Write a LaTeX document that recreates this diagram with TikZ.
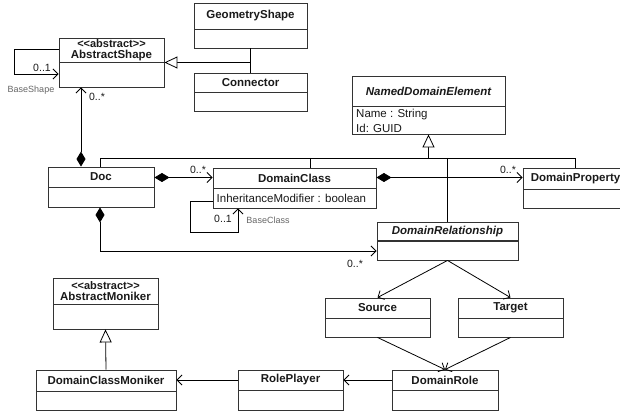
\documentclass[tikz,border=0pt]{standalone}
\usepackage{fontspec}
\setmainfont{Liberation Sans}
\usetikzlibrary{arrows.meta,fit,calc}
\definecolor{boxc}{HTML}{333333}
\definecolor{txtc}{HTML}{1A1A1A}
\tikzset{
  box/.style={draw=boxc, line width=0.9pt, inner sep=0pt},
  ttl/.style={font=\fontsize{11.5}{12}\selectfont\bfseries, align=center, inner sep=0pt, text=txtc},
  attr/.style={font=\fontsize{11.5}{13}\selectfont, anchor=west, inner sep=0pt, text=txtc},
  lbl/.style={font=\fontsize{10.5}{12}\selectfont, inner sep=0pt, text=txtc},
  rl/.style={font=\fontsize{9}{10}\selectfont, text=black!60, inner sep=0pt},
  conn/.style={line width=0.8pt, draw=black},
  >={Straight Barb[length=5pt,width=10pt]},
  dia/.tip={Diamond[length=15pt,width=9pt]},
  gen/.tip={Triangle[open,length=13pt,width=12pt,fill=white]},
}
\newcommand{\stereo}{<\kern0pt<abstract>\kern0pt>}
\newcommand{\ucls}[7]{%
  \coordinate (#1-a) at (#2,#3);
  \coordinate (#1-b) at (#4,#6);
  \node[box, fit=(#1-a)(#1-b)] (#1) {};
  \draw[box] (#2,#5) -- (#4,#5);
  \node[ttl] (#1-t) at ({(#2+#4)/2},{(#3+#5)/2}) {#7};
}
\begin{document}
\begin{tikzpicture}[x=1pt,y=-1pt]
\useasboundingbox (0,0) rectangle (620,411);
\clip (0,0) rectangle (620,411);
\fill[white] (0,0) rectangle (620,411);

% classes
\ucls{gs}{194}{3}{307}{29}{48}{GeometryShape}
\ucls{con}{194}{73}{307}{92}{111}{Connector}
\ucls{abs}{59}{38}{164}{62}{87}{\fontsize{11}{12}\selectfont\bfseries \stereo\\[-1pt]AbstractShape}
\ucls{nde}{352}{76}{505}{106}{134}{\itshape NamedDomainElement}
\ucls{doc}{48}{167}{154}{187}{207}{Doc}
\ucls{dc}{213}{168}{376}{188}{208}{DomainClass}
\ucls{dp}{523}{168}{628}{189}{208}{DomainProperty}
\ucls{src}{325}{298}{430}{318}{337}{Source}
\ucls{tgt}{458}{298}{563}{318}{337}{Target}
\ucls{drole}{392}{370}{498}{390}{410}{DomainRole}
\ucls{rp}{238}{370}{343}{390}{410}{RolePlayer}
\ucls{dcm}{36}{370}{176}{391}{410}{DomainClassMoniker}
\ucls{am}{53}{278}{158}{304}{329}{\fontsize{11}{12}\selectfont\bfseries \stereo\\[-1pt]AbstractMoniker}
% DomainRelationship with thick divider
\coordinate (dr-a) at (377,222);
\coordinate (dr-b) at (518,260);
\node[box, fit=(dr-a)(dr-b)] (dr) {};
\draw[box, line width=1.8pt] (377,241) -- (518,241);
\node[ttl] (dr-t) at (447.5,231.5) {\itshape DomainRelationship};

% attributes
\node[attr] (nde-a1) at (356,115) {Name : String};
\node[attr] (nde-a2) at (356,128.5) {Id: GUID};
\node[attr] (dc-a1) at (216.5,198) {InheritanceModifier : boolean};

% generalization GeometryShape / Connector -> AbstractShape
\draw[conn] (gs.south) -- (con.north);
\draw[conn,-gen] (abs.east -| gs.south) -- (abs.east);

% AbstractShape self loop
\draw[conn,->] (abs.west |- 0,49) -- (14,49) -- (14,74) -- (abs.west |- 0,74);
\node[lbl] (l1) at (42,68) {0..1};
\node[rl] (l2) at (31,90) {BaseShape};

% Doc -> AbstractShape
\draw[conn,dia->] (doc.north -| 81,0) -- (abs.south -| 81,0);
\node[lbl] (l3) at (97,97) {0..*};

% generalization tree to NamedDomainElement
\draw[conn,-gen] (nde.south |- 0,158) -- (nde.south);
\draw[conn] (doc.north -| 100,0) -- (100,158) -- (dp.north |- 0,158) -- (dp.north);
\draw[conn] (310,158) -- (dc.north -| 310,0);
\draw[conn] (dr.north |- 0,158) -- (dr.north);

% Doc -> DomainClass
\draw[conn,dia->] (doc.east |- 0,177.5) -- (dc.west |- 0,177.5);
\node[lbl] (l4) at (198,170) {0..*};

% DomainClass self loop
\draw[conn,->] (dc.west |- 0,201) -- (190,201) -- (190,232) -- (238,232) -- (dc.south -| 238,0);
\node[lbl] (l5) at (223,219) {0..1};
\node[rl] (l6) at (268,220) {BaseClass};

% DomainClass -> DomainProperty
\draw[conn,dia->] (dc.east |- 0,177.5) -- (dp.west |- 0,177.5);
\node[lbl] (l7) at (508,170) {0..*};

% Doc -> DomainRelationship
\draw[conn,dia->] (doc.south -| 100,0) -- (100,251) -- (dr.west |- 0,251);
\node[lbl] (l8) at (355,264) {0..*};

% DomainRelationship -> Source / Target
\draw[conn,->] (dr.south) -- (src.north);
\draw[conn,->] (dr.south) -- (tgt.north);
% Source / Target -> DomainRole
\draw[conn,->] (src.south) -- (drole.north);
\draw[conn,->] (tgt.south) -- (drole.north);
% DomainRole -> RolePlayer -> DomainClassMoniker
\draw[conn,->] (drole.west |- 0,380) -- (rp.east |- 0,380);
\draw[conn,->] (rp.west |- 0,380) -- (dcm.east |- 0,380);
% DomainClassMoniker -> AbstractMoniker
\draw[conn,-gen] (dcm.north) -- (am.south);
\end{tikzpicture}
\end{document}
